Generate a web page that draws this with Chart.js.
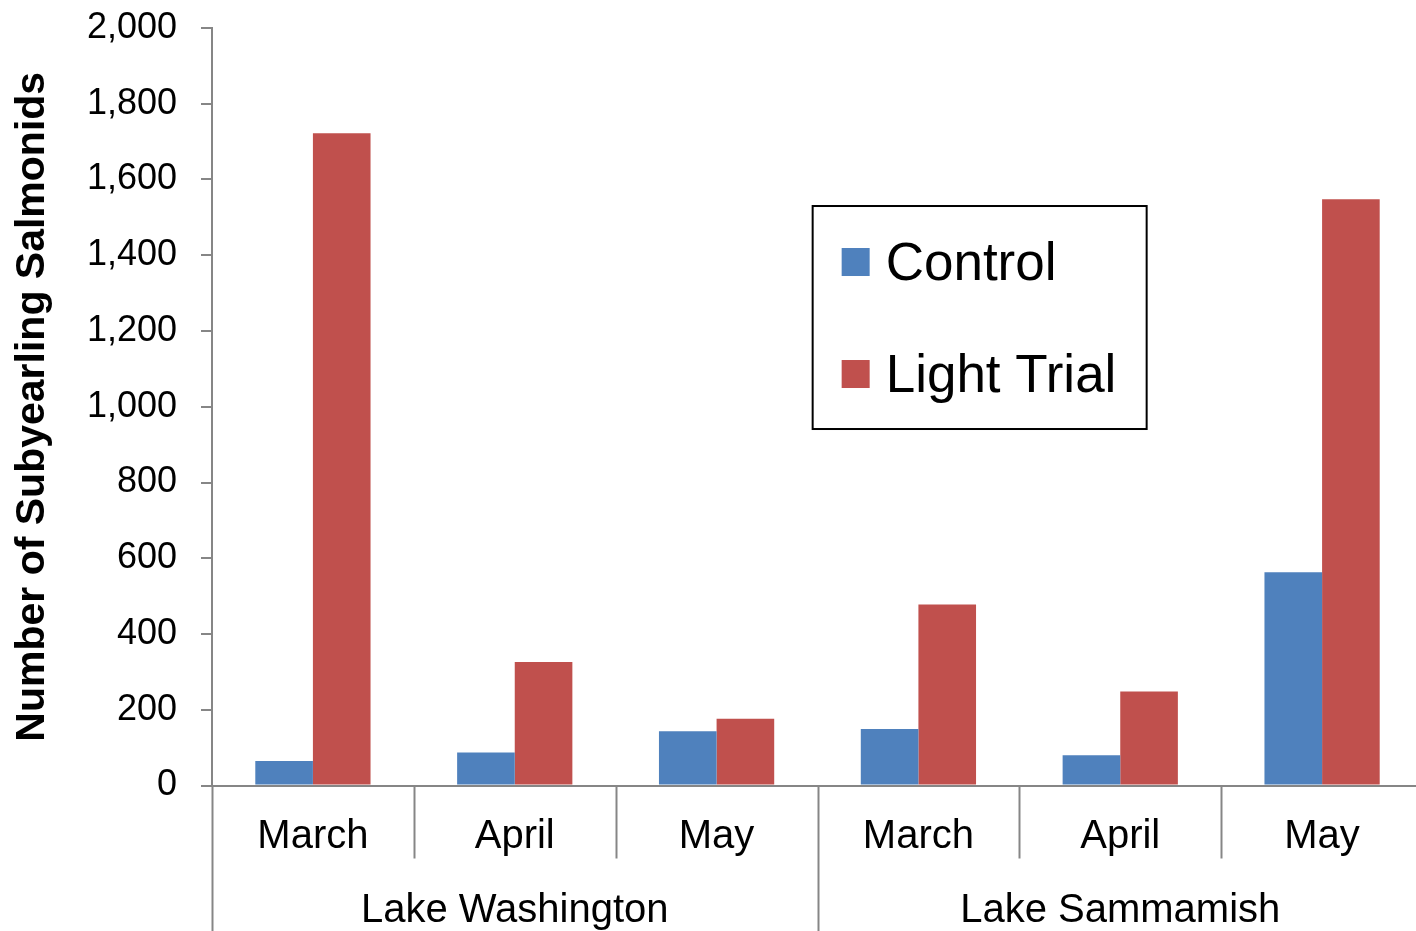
<!DOCTYPE html>
<html>
<head>
<meta charset="utf-8">
<script src="https://cdn.jsdelivr.net/npm/chart.js@4.4.1/dist/chart.umd.min.js"></script>
<style>
  html, body { margin: 0; padding: 0; background: #ffffff; overflow: hidden; }
  #wrap { position: relative; width: 1423px; height: 931px; }
</style>
</head>
<body>
<div id="wrap"><canvas id="chart"></canvas></div>
<script>
// Months sampled at each lake, in plotting order
const categories = ['March', 'April', 'May', 'March', 'April', 'May'];
// Lake names shown on the second row of the category axis
const groups = ['Lake Washington', 'Lake Sammamish'];
// Catch counts per month
const controlValues = [65, 87, 143, 149, 80, 563];
const lightTrialValues = [1722, 326, 176, 478, 248, 1548];
// Value axis range and step
const yMin = 0;
const yMax = 2000;
const yStep = 200;

const seriesNames = ['Control', 'Light Trial'];
const seriesColors = ['#4F81BD', '#C0504D'];
const axisGray = '#868686';
const FONT = '"Liberation Sans", Arial, sans-serif';

// Separator lines for the two-level category axis
const categoryDividers = {
  id: 'categoryDividers',
  afterDraw(chart) {
    const xs = chart.scales.x;
    const ctx = chart.ctx;
    const n = categories.length;
    const perGroup = n / groups.length;
    ctx.save();
    ctx.strokeStyle = axisGray;
    ctx.lineWidth = 2;
    for (let i = 0; i <= n; i++) {
      let px;
      if (i === 0) px = xs.left;
      else if (i === n) px = xs.right;
      else px = (xs.getPixelForTick(i - 1) + xs.getPixelForTick(i)) / 2;
      const bottom = (i % perGroup === 0) ? chart.height : xs.bottom;
      ctx.beginPath();
      ctx.moveTo(Math.round(px) + 0.5, xs.top);
      ctx.lineTo(Math.round(px) + 0.5, bottom);
      ctx.stroke();
    }
    ctx.restore();
  }
};

// Boxed legend inside the plot area
const boxedLegend = {
  id: 'boxedLegend',
  afterDraw(chart) {
    const ctx = chart.ctx;
    const area = chart.chartArea;
    const w = area.right - area.left;
    const h = area.bottom - area.top;
    const bx = area.left + w * 0.496;
    const by = area.top + h * 0.235;
    const bw = 334;
    const bh = 223;
    ctx.save();
    ctx.fillStyle = '#ffffff';
    ctx.fillRect(bx, by, bw, bh);
    ctx.strokeStyle = '#000000';
    ctx.lineWidth = 2;
    ctx.strokeRect(bx, by, bw, bh);
    ctx.font = '53px ' + FONT;
    ctx.textBaseline = 'alphabetic';
    chart.data.datasets.forEach((ds, i) => {
      const rowY = by + 42 + i * 112;
      ctx.fillStyle = ds.backgroundColor;
      ctx.fillRect(bx + 29, rowY, 28, 28);
      ctx.fillStyle = '#000000';
      ctx.fillText(ds.label, bx + 73, rowY + 32);
    });
    ctx.restore();
  }
};

new Chart(document.getElementById('chart'), {
  type: 'bar',
  data: {
    labels: categories,
    datasets: [
      { label: seriesNames[0], data: controlValues, backgroundColor: seriesColors[0], borderWidth: 0 },
      { label: seriesNames[1], data: lightTrialValues, backgroundColor: seriesColors[1], borderWidth: 0 }
    ]
  },
  options: {
    responsive: true,
    maintainAspectRatio: false,
    animation: false,
    devicePixelRatio: 1,
    layout: { padding: { top: 28, right: 0, bottom: 0, left: 0 } },
    datasets: { bar: { categoryPercentage: 0.571, barPercentage: 1.0 } },
    plugins: {
      legend: { display: false },
      tooltip: { enabled: false }
    },
    scales: {
      x: {
        type: 'category',
        position: 'bottom',
        weight: 0,
        offset: true,
        grid: { display: false, drawTicks: false },
        border: { display: true, color: axisGray, width: 2 },
        ticks: { color: '#000000', font: { family: FONT, size: 40 }, padding: 27, maxRotation: 0, autoSkip: false },
        afterFit(scale) { scale.height = 73; }
      },
      x2: {
        type: 'category',
        labels: groups,
        position: 'bottom',
        weight: 1,
        offset: true,
        grid: { display: false, drawTicks: false },
        border: { display: false },
        ticks: { color: '#000000', font: { family: FONT, size: 40 }, padding: 28, maxRotation: 0, autoSkip: false },
        afterFit(scale) { scale.height = 72.5; }
      },
      y: {
        min: yMin,
        max: yMax,
        ticks: {
          stepSize: yStep,
          color: '#000000',
          font: { family: FONT, size: 36 },
          padding: 24,
          callback: (v) => v.toLocaleString('en-US')
        },
        grid: { display: true, drawOnChartArea: false, drawTicks: true, tickLength: 11, color: axisGray, lineWidth: 2 },
        border: { display: true, color: axisGray, width: 2 },
        title: {
          display: true,
          text: 'Number of Subyearling Salmonids',
          color: '#000000',
          font: { family: FONT, size: 41, weight: 'bold' },
          padding: { top: 8, bottom: 0 }
        },
        afterFit(scale) {
          scale.width = 212;
          scale.paddingTop = 0;
          scale.paddingBottom = 0;
        }
      }
    }
  },
  plugins: [categoryDividers, boxedLegend]
});
</script>
</body>
</html>
